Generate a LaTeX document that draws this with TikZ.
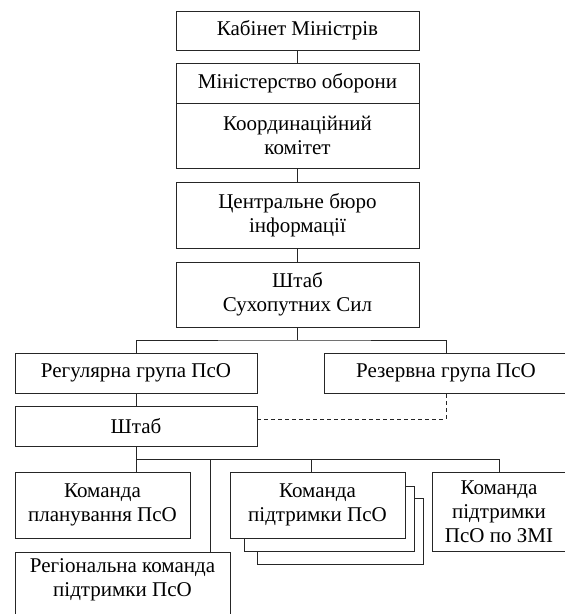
\documentclass[tikz,border=0pt]{standalone}
\usepackage{fontspec}
\setmainfont{Liberation Serif}
\begin{document}
\begin{tikzpicture}[x=1pt,y=1pt,
  box/.style={draw=black!85, line width=0.9pt, fill=white, inner sep=0pt, align=center,
    font=\fontsize{21}{24}\selectfont},
  txt/.style={inner sep=0pt, align=center, font=\fontsize{21}{24}\selectfont},
  conn/.style={draw=black!85, line width=0.9pt},
  dconn/.style={draw=black!85, line width=0.9pt, dash pattern=on 4pt off 3pt}]
\useasboundingbox (0,0) rectangle (565,-614);
\clip (0,0) rectangle (565,-614);
% top column
\node[box, minimum width=243pt, minimum height=39pt] (b1) at (297.5,-30.5) {Кабінет Міністрів};
\node[box, minimum width=243pt, minimum height=40pt] (b2) at (297.5,-83) {Міністерство оборони};
\node[box, minimum width=243pt, minimum height=65pt] (b3) at (297.5,-135.5) {Координаційний\\комітет};
\node[box, minimum width=243pt, minimum height=66pt] (b4) at (297.5,-215) {Центральне бюро\\інформації};
\node[box, minimum width=243pt, minimum height=65pt] (b5) at (297.5,-294.5) {Штаб\\Сухопутних Сил};
\draw[conn] (b1.south) -- (b2.north);
\draw[conn] (b3.south) -- (b4.north);
\draw[conn] (b4.south) -- (b5.north);
% groups
\node[box, minimum width=242pt, minimum height=40pt] (reg) at (136,-373) {Регулярна група ПсО};
\node[box, minimum width=244pt, minimum height=40pt] (res) at (446,-373) {Резервна група ПсО};
\node[box, minimum width=242pt, minimum height=40pt] (sht) at (136,-426) {Штаб};
\coordinate (bus1) at (297.5,-340);
\draw[conn] (b5.south) -- (bus1);
\draw[conn] (reg.north) |- (bus1) -| (res.north);
\draw[conn] (reg.south) -- (sht.north);
\draw[dconn] ([yshift=7pt]sht.east) -| (res.south);
% lower level
\node[box, minimum width=175pt, minimum height=66pt] (plan) at (102.5,-505) {Команда\\планування ПсО};
\node[box, minimum width=215pt, minimum height=70pt] (regc) at (122.5,-587) {};
\node[txt] (regct) at (122.5,-580) {Регіональна команда\\підтримки ПсО};
\node[box, minimum width=166pt, minimum height=66pt] (sup3) at (340,-531) {};
\node[box, minimum width=170pt, minimum height=65pt] (sup2) at (329,-518.5) {};
\node[box, minimum width=175pt, minimum height=66pt] (sup1) at (317.5,-505) {Команда\\підтримки ПсО};
\node[box, minimum width=134pt, minimum height=79pt] (zmi) at (499,-511.5) {Команда\\підтримки\\ПсО по ЗМІ};
\coordinate (bus2) at (136,-459);
\coordinate (j1) at (210,-459);
\coordinate (j2) at (311,-459);
\draw[conn] (sht.south) -- (bus2) -| (zmi.north);
\draw[conn] (bus2) -- (bus2 |- plan.north);
\draw[conn] (j1) -- (j1 |- regc.north);
\draw[conn] (j2) -- (j2 |- sup1.north);
\end{tikzpicture}
\end{document}
